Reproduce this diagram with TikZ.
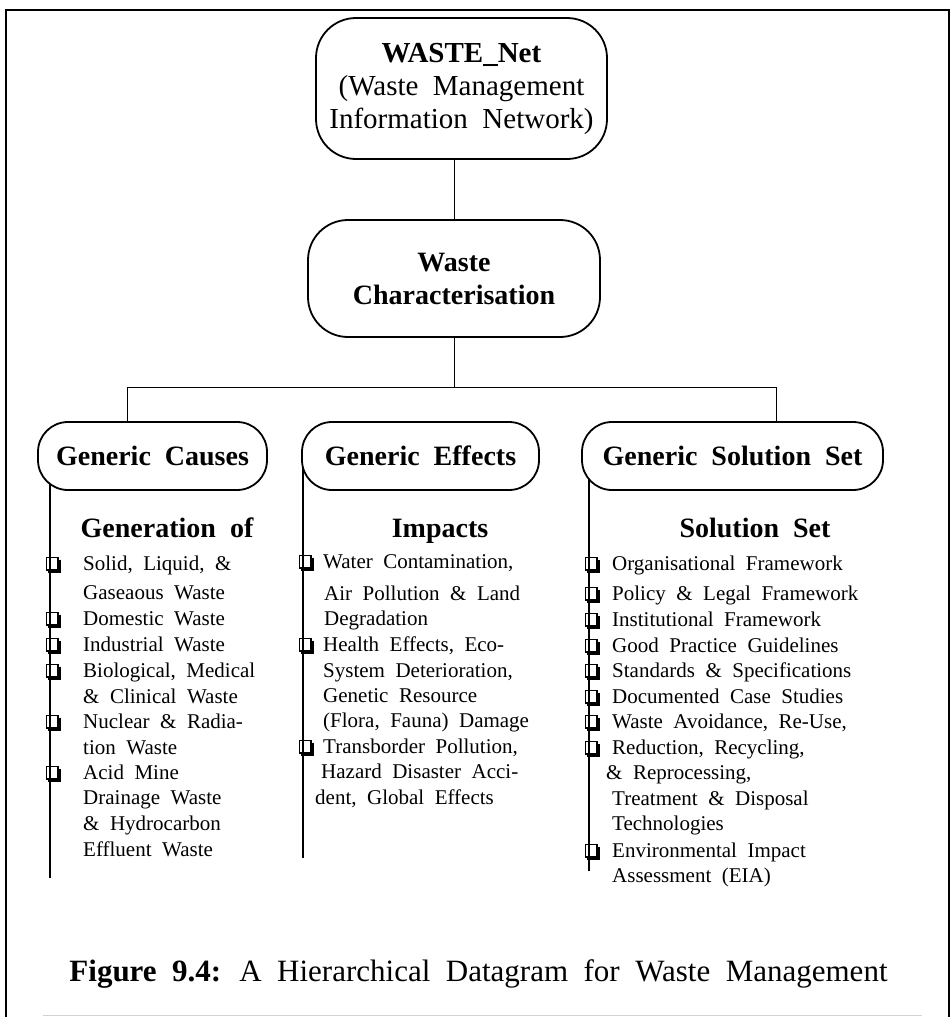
\documentclass[tikz,border=0pt]{standalone}
\usepackage{fontspec}
\setmainfont{Liberation Serif}[WordSpace=2]
\usetikzlibrary{backgrounds}
\newcommand\bodyfont{\fontsize{21}{25.5}\selectfont}
\newcommand\headfont{\fontsize{28}{33}\selectfont\bfseries}
\begin{document}
\begin{tikzpicture}[x=1pt,y=-1pt,
  box/.style={draw, line width=1.8pt, fill=white, align=center, inner sep=0pt, font=\headfont},
  conn/.style={line width=1pt},
  colline/.style={line width=1.1pt},
  item/.style={anchor=base west, inner sep=0pt, font=\bodyfont},
  head/.style={anchor=base, inner sep=0pt, font=\headfont},
  bul/.pic={
    \draw[line width=1.2pt] (-3.5,-12.5) rectangle (8,0);
    \draw[line width=2.6pt] (9.3,-10.5) -- (9.3,1.3) -- (-2.5,1.3);
  }]
\useasboundingbox (0,0) rectangle (952,1017);
% frame
\draw[line width=2.6pt] (6,1017) -- (6,10) -- (949,10) -- (949,1017);
\draw[gray!35, line width=1pt] (43,1015) -- (922,1015);

% boxes
\node[box, minimum width=291pt, minimum height=141pt, rounded corners=40pt,
      font=\fontsize{29}{33}\selectfont] (WN) at (461.5,88.5)
  {\textbf{WASTE\_Net}\\(Waste Management\\Information Network)};
\node[box, minimum width=292pt, minimum height=117pt, rounded corners=40pt] (WC) at (454,278.5)
  {Waste\\Characterisation};
\node[box, minimum width=229pt, minimum height=68pt, rounded corners=30pt] (GC) at (152.5,456) {Generic Causes};
\node[box, minimum width=237pt, minimum height=68pt, rounded corners=30pt] (GE) at (420.5,456) {Generic Effects};
\node[box, minimum width=301pt, minimum height=68pt, rounded corners=30pt] (GS) at (732.5,456) {Generic Solution Set};

% connectors
\coordinate (busL) at (127.5,387);
\coordinate (busR) at (776,387);
\draw[conn] (WN.south -| WC.north) -- (WC.north);
\draw[conn] (WC.south) -- (WC.south |- busL);
\draw[conn] (GC.north -| busL) -- (busL) -- (busR) -- (GS.north -| busR);

% column lines
\coordinate (c1e) at (50,878);
\coordinate (c2e) at (303,858);
\coordinate (c3e) at (589,871);
\begin{scope}[on background layer]
\draw[colline] (GC.center -| c1e) -- (c1e);
\draw[colline] (GE.center -| c2e) -- (c2e);
\draw[colline] (GS.center -| c3e) -- (c3e);
\end{scope}

% headings
\node[head] (h1) at (167,537) {Generation of};
\node[head] (h2) at (440,537) {Impacts};
\node[head] (h3) at (755,537) {Solution Set};

% column 1
\foreach \y in {570,625,651,677,728,779} \pic at (50,\y) {bul};
\node[item] (a1) at (83,570) {Solid, Liquid, \&};
\node[item] (a2) at (83,599) {Gaseaous Waste};
\node[item] (a3) at (83,625) {Domestic Waste};
\node[item] (a4) at (83,651) {Industrial Waste};
\node[item] (a5) at (83,677) {Biological, Medical};
\node[item] (a6) at (83,703) {\& Clinical Waste};
\node[item] (a7) at (83,728) {Nuclear \& Radia-};
\node[item] (a8) at (83,754) {tion Waste};
\node[item] (a9) at (83,779) {Acid Mine};
\node[item] (a10) at (83,804) {Drainage Waste};
\node[item] (a11) at (83,830) {\& Hydrocarbon};
\node[item] (a12) at (83,856) {Effluent Waste};

% column 2
\foreach \y in {568,651,753} \pic at (303,\y) {bul};
\node[item] (b1) at (323,568) {Water Contamination,};
\node[item] (b2) at (324,600) {Air Pollution \& Land};
\node[item] (b3) at (324,625) {Degradation};
\node[item] (b4) at (323,651) {Health Effects, Eco-};
\node[item] (b5) at (323,677) {System Deterioration,};
\node[item] (b6) at (323,702) {Genetic Resource};
\node[item] (b7) at (323,727) {(Flora, Fauna) Damage};
\node[item] (b8) at (323,753) {Transborder Pollution,};
\node[item] (b9) at (321,778) {Hazard Disaster Acci-};
\node[item] (b10) at (315,804) {dent, Global Effects};

% column 3
\foreach \y in {570,600,626,652,677,703,728,754,857} \pic at (589,\y) {bul};
\node[item] (s1) at (612,570) {Organisational Framework};
\node[item] (s2) at (612,600) {Policy \& Legal Framework};
\node[item] (s3) at (612,626) {Institutional Framework};
\node[item] (s4) at (612,652) {Good Practice Guidelines};
\node[item] (s5) at (612,677) {Standards \& Specifications};
\node[item] (s6) at (612,703) {Documented Case Studies};
\node[item] (s7) at (612,728) {Waste Avoidance, Re-Use,};
\node[item] (s8) at (612,754) {Reduction, Recycling,};
\node[item] (s9) at (606,779) {\& Reprocessing,};
\node[item] (s10) at (612,805) {Treatment \& Disposal};
\node[item] (s11) at (612,830) {Technologies};
\node[item] (s12) at (612,857) {Environmental Impact};
\node[item] (s13) at (612,882) {Assessment (EIA)};

% caption
\node[anchor=base, inner sep=0pt, font=\fontsize{31}{35}\selectfont] (cap) at (478.5,981)
  {\textbf{Figure 9.4:} A Hierarchical Datagram for Waste Management};
\end{tikzpicture}
\end{document}
